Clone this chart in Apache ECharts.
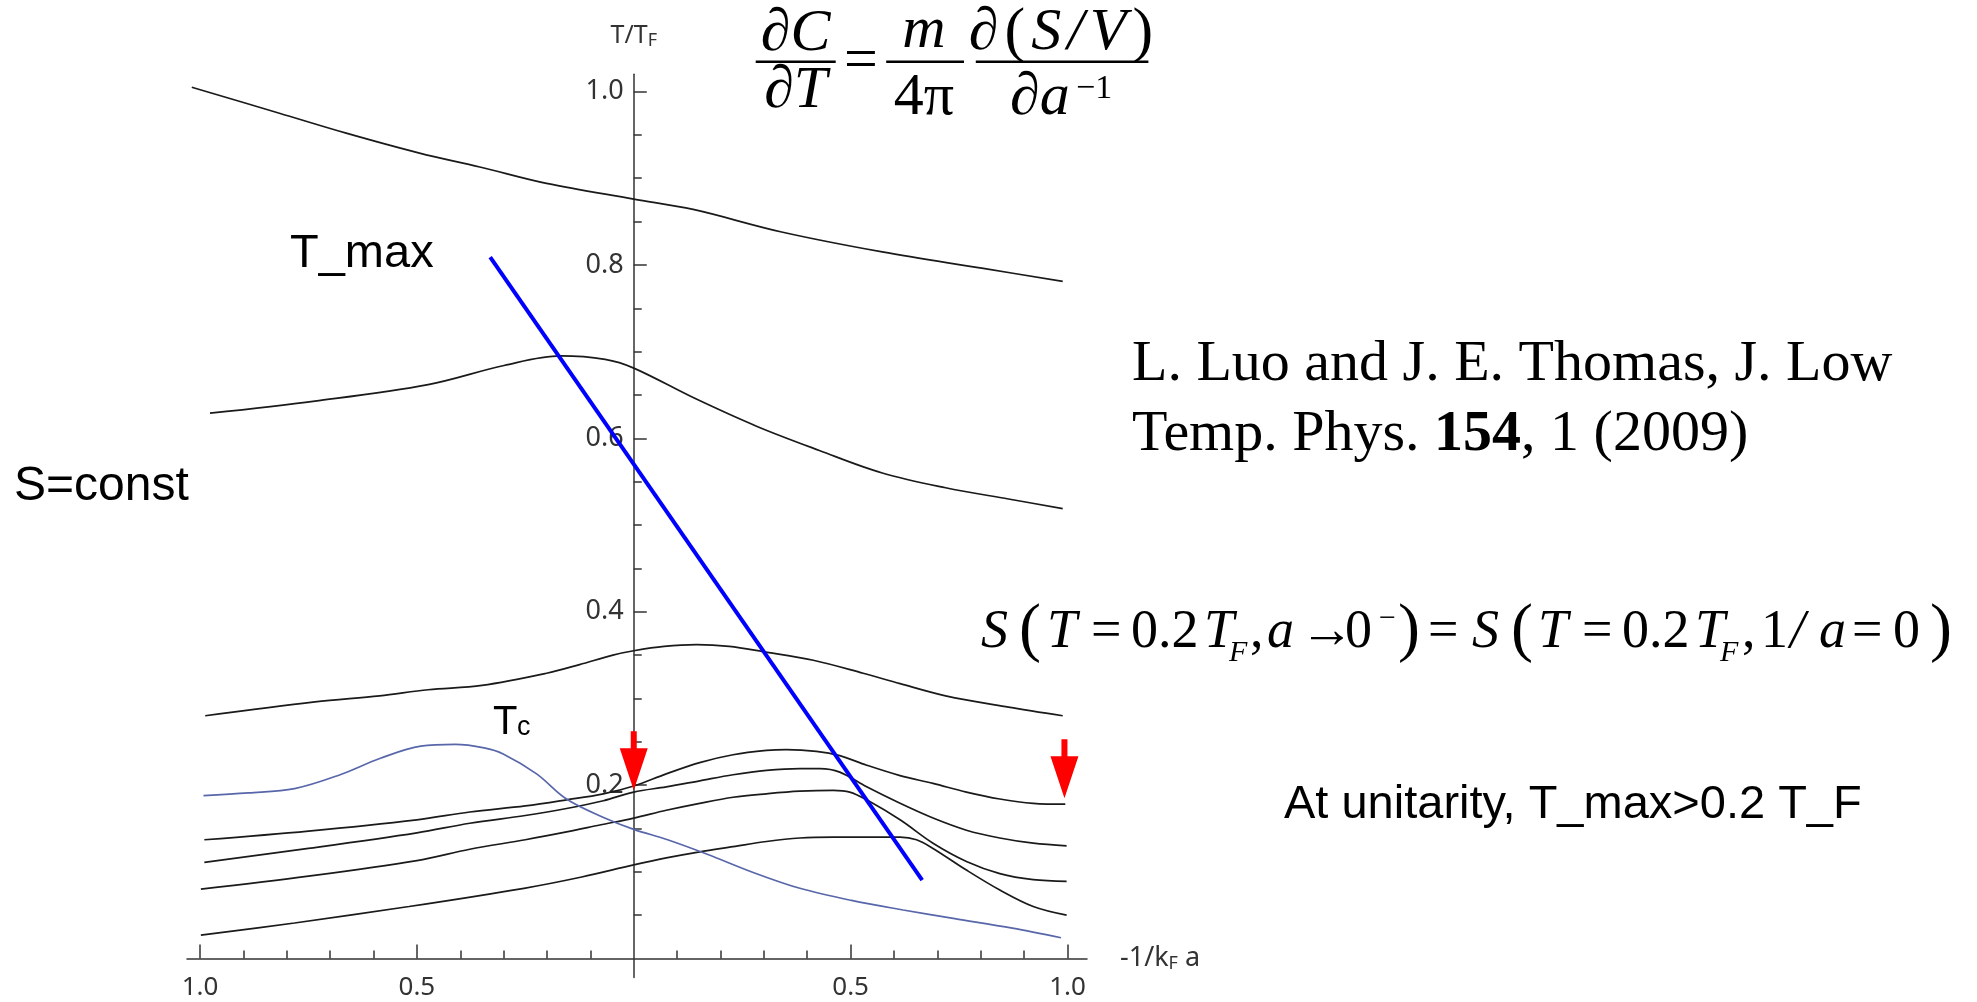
<!DOCTYPE html>
<html><head><meta charset="utf-8">
<script src="https://cdn.jsdelivr.net/npm/echarts@6/dist/echarts.min.js"></script>
<style>html,body{margin:0;padding:0;background:#fff}#c{width:1977px;height:1002px}</style>
</head><body><div id="c"></div>
<script>
// ---- data (x = -1/kFa signed, y = T/TF) ----
const xTicksMajor = [-1, -0.5, 0.5, 1];
const xTicksMinor = [-0.9,-0.8,-0.7,-0.6,-0.4,-0.3,-0.2,-0.1,0.1,0.2,0.3,0.4,0.6,0.7,0.8,0.9];
const yTicksMajor = [0.2, 0.4, 0.6, 0.8, 1.0];
const yTicksMinor = [0.05,0.1,0.15,0.25,0.3,0.35,0.45,0.5,0.55,0.65,0.7,0.75,0.85,0.9,0.95];

const isentrope1 = [[-1.019,1.005],[-0.817,0.975],[-0.663,0.952],[-0.494,0.929],[-0.355,0.913],[-0.201,0.894],[0,0.876],[0.137,0.864],[0.341,0.838],[0.573,0.815],[0.806,0.796],[0.989,0.781]];
const isentrope2 = [[-0.977,0.629],[-0.735,0.643],[-0.474,0.662],[-0.299,0.684],[-0.168,0.695],[-0.066,0.691],[0,0.681],[0.137,0.647],[0.283,0.614],[0.428,0.586],[0.573,0.560],[0.719,0.543],[0.864,0.530],[0.989,0.519]];
const isentrope3 = [[-0.988,0.280],[-0.735,0.296],[-0.586,0.303],[-0.474,0.310],[-0.35,0.315],[-0.201,0.329],[-0.125,0.339],[-0.048,0.350],[0,0.355],[0.07,0.360],[0.145,0.362],[0.22,0.360],[0.298,0.354],[0.414,0.344],[0.529,0.329],[0.614,0.317],[0.719,0.303],[0.864,0.290],[0.989,0.280]];
const isentrope4 = [[-0.99,0.137],[-0.75,0.147],[-0.5,0.160],[-0.378,0.169],[-0.25,0.176],[-0.155,0.183],[-0.07,0.190],[0,0.199],[0.075,0.213],[0.152,0.226],[0.229,0.235],[0.306,0.240],[0.352,0.241],[0.421,0.239],[0.475,0.234],[0.537,0.223],[0.614,0.211],[0.690,0.202],[0.767,0.192],[0.844,0.184],[0.921,0.179],[0.995,0.178]];
const isentrope5 = [[-0.99,0.111],[-0.75,0.127],[-0.5,0.145],[-0.378,0.156],[-0.25,0.165],[-0.155,0.173],[-0.07,0.182],[0,0.192],[0.075,0.198],[0.152,0.205],[0.229,0.212],[0.306,0.217],[0.383,0.219],[0.429,0.219],[0.475,0.215],[0.537,0.198],[0.614,0.179],[0.690,0.162],[0.767,0.148],[0.844,0.139],[0.921,0.133],[0.998,0.130]];
const isentrope6 = [[-0.998,0.080],[-0.75,0.095],[-0.5,0.113],[-0.378,0.126],[-0.25,0.137],[-0.155,0.146],[-0.078,0.154],[0,0.162],[0.075,0.171],[0.152,0.179],[0.229,0.186],[0.306,0.190],[0.383,0.193],[0.46,0.194],[0.498,0.192],[0.537,0.183],[0.614,0.160],[0.69,0.133],[0.767,0.112],[0.844,0.098],[0.921,0.091],[0.998,0.089]];
const isentrope7 = [[-0.998,0.027],[-0.782,0.041],[-0.518,0.060],[-0.253,0.081],[-0.12,0.094],[0,0.108],[0.075,0.116],[0.152,0.123],[0.229,0.129],[0.306,0.135],[0.383,0.139],[0.46,0.140],[0.537,0.140],[0.614,0.140],[0.652,0.137],[0.69,0.127],[0.767,0.102],[0.844,0.079],[0.921,0.060],[0.998,0.050]];
const tcCurve = [[-0.992,0.188],[-0.888,0.191],[-0.782,0.196],[-0.677,0.212],[-0.584,0.231],[-0.491,0.245],[-0.412,0.247],[-0.345,0.243],[-0.301,0.236],[-0.224,0.213],[-0.155,0.184],[-0.071,0.163],[0,0.149],[0.078,0.137],[0.171,0.120],[0.277,0.099],[0.383,0.081],[0.502,0.067],[0.621,0.056],[0.740,0.046],[0.873,0.035],[0.985,0.024]];
const tmaxLine = [[-0.331,0.809],[0.665,0.0905]];
const arrowPoints = [[0,0.194],[0.993,0.185]];

const isentropes = [isentrope1, isentrope2, isentrope3, isentrope4, isentrope5, isentrope6, isentrope7];

// ---- chart ----
const chart = echarts.init(document.getElementById('c'), null, {renderer:'canvas'});
const axisColor = '#333';
const labelColor = '#333333';
const tickFont = '"Noto Sans", "Open Sans", sans-serif';
const serif = '"Liberation Serif", "Times New Roman", serif';
const sans = '"Liberation Sans", Arial, sans-serif';

const X_MIN = -1.03, X_MAX = 1.045, Y_MIN = -0.022, Y_MAX = 1.02;
const GRID = {left:187, top:74.2, width:900, height:903.4};
const yAxisShift = -GRID.width * (0 - X_MIN) / (X_MAX - X_MIN);    // move y axis to x = 0
const xAxisShift = -GRID.height * (0 - Y_MIN) / (Y_MAX - Y_MIN);   // move x axis to y = 0

const series = isentropes.map(d => ({
  type:'line', data:d, showSymbol:false, smooth:0.35,
  lineStyle:{color:'#1a1a1a', width:1.7}, silent:true, z:2
}));
series.push({type:'line', data:tcCurve, showSymbol:false, smooth:0.35, lineStyle:{color:'#5866aa', width:1.7}, z:3});
series.push({type:'line', data:tmaxLine, showSymbol:false, lineStyle:{color:'#0000ff', width:4}, z:4});
series.push({type:'scatter', data:arrowPoints,
  symbol:'path://M11,0L17,0L17,17L28,17L14,59L0,17L11,17Z',
  symbolSize:[28,59], symbolOffset:[0,'-50%'], itemStyle:{color:'#ff0000', opacity:1}, z:5});

// entropy-condition tokens: [text, left x, style key]
const eqTokens = [
  ['S',981,'i'],['(',1019,'p'],['T',1047,'i'],['=',1091,'n'],['0.2',1131,'n'],['T',1204,'i'],['F',1229,'sub'],[',',1250,'n'],
  ['a',1267,'i'],['→',1300,'n'],['0',1345,'n'],['−',1379,'sup'],[')',1398,'p'],['=',1428,'n'],
  ['S',1472,'i'],['(',1511,'p'],['T',1538,'i'],['=',1582,'n'],['0.2',1622,'n'],['T',1695,'i'],['F',1720,'sub'],[',',1742,'n'],
  ['1',1761,'n'],['/',1790,'i'],['a',1819,'i'],['=',1852,'n'],['0',1893,'n'],[')',1930,'p']
];
const eqStyles = {
  i:{font:'italic 54px '+serif, y:633},
  n:{font:'54px '+serif, y:633},
  p:{font:'66px '+serif, y:631.5},
  sub:{font:'italic 30px '+serif, y:653.5},
  sup:{font:'30px '+serif, y:619}
};
const eqGraphics = eqTokens.map(t => ({type:'text', x:t[1], y:eqStyles[t[2]].y,
  style:{text:t[0], font:eqStyles[t[2]].font, fill:'#000', textAlign:'left', textVerticalAlign:'middle'}}));

const option = {
  animation:false,
  backgroundColor:'#ffffff',
  grid:Object.assign({outerBoundsMode:'none', containLabel:false}, GRID),
  xAxis:[{
    type:'value', min:X_MIN, max:X_MAX, position:'bottom', offset:xAxisShift,
    axisLine:{show:true, onZero:false, lineStyle:{color:axisColor, width:1.5}},
    axisTick:{show:true, inside:true, length:14, customValues:xTicksMajor, lineStyle:{color:axisColor, width:1.5}},
    axisLabel:{show:true, customValues:xTicksMajor, margin:16, color:labelColor, fontFamily:tickFont, fontSize:26,
      formatter:v => Math.abs(v).toFixed(1)},
    splitLine:{show:false},
    name:'{a|-1/k}{s|F}{a| a}', nameLocation:'end', nameGap:33,
    nameTextStyle:{rich:{a:{fontFamily:tickFont, fontSize:27, color:labelColor}, s:{fontFamily:tickFont, fontSize:18, color:labelColor, padding:[10,0,0,0]}}}
  },{
    type:'value', min:X_MIN, max:X_MAX, position:'bottom', offset:xAxisShift,
    axisLine:{show:false, onZero:false},
    axisTick:{show:true, inside:true, length:8, customValues:xTicksMinor, lineStyle:{color:axisColor, width:1.5}},
    axisLabel:{show:false}, splitLine:{show:false}
  }],
  yAxis:[{
    type:'value', min:Y_MIN, max:Y_MAX, position:'left', offset:yAxisShift,
    axisLine:{show:true, onZero:false, lineStyle:{color:axisColor, width:1.5}},
    axisTick:{show:true, inside:true, length:13, customValues:yTicksMajor, lineStyle:{color:axisColor, width:1.5}},
    axisLabel:{show:true, customValues:yTicksMajor, margin:10, color:labelColor, fontFamily:tickFont, fontSize:27,
      formatter:v => v.toFixed(1)},
    splitLine:{show:false},
    name:'{a|T/T}{s|F}', nameLocation:'end', nameGap:24,
    nameTextStyle:{rich:{a:{fontFamily:tickFont, fontSize:25, color:labelColor}, s:{fontFamily:tickFont, fontSize:18, color:labelColor, padding:[10,0,0,0]}}}
  },{
    type:'value', min:Y_MIN, max:Y_MAX, position:'left', offset:yAxisShift,
    axisLine:{show:false, onZero:false},
    axisTick:{show:true, inside:true, length:8, customValues:yTicksMinor, lineStyle:{color:axisColor, width:1.5}},
    axisLabel:{show:false}, splitLine:{show:false}
  }],
  series: series,
  graphic:[
    // formula dC/dT = m/(4pi) d(S/V)/d a^-1
    {type:'text', x:795.7, y:34, style:{text:'∂C', font:'italic 60px '+serif, fill:'#000', textAlign:'center', textVerticalAlign:'middle'}},
    {type:'rect', shape:{x:755.7, y:60.4, width:80, height:2.6}, style:{fill:'#000'}},
    {type:'text', x:795.7, y:91.3, style:{text:'∂T', font:'italic 60px '+serif, fill:'#000', textAlign:'center', textVerticalAlign:'middle'}},
    {type:'text', x:861, y:62, style:{text:'=', font:'60px '+serif, fill:'#000', textAlign:'center', textVerticalAlign:'middle'}},
    {type:'text', x:924, y:31.6, style:{text:'m', font:'italic 60px '+serif, fill:'#000', textAlign:'center', textVerticalAlign:'middle'}},
    {type:'rect', shape:{x:886.2, y:60.4, width:77.8, height:2.6}, style:{fill:'#000'}},
    {type:'text', x:924, y:98.6, style:{text:'4π', font:'60px '+serif, fill:'#000', textAlign:'center', textVerticalAlign:'middle'}},
    {type:'text', x:1061, y:33.5, style:{text:'{i|∂}{p|(}{i|S}{i|/}{i|V}{p|)}', textAlign:'center', textVerticalAlign:'middle',
      rich:{i:{font:'italic 60px '+serif, fill:'#000', padding:[0,3,0,3]}, p:{font:'62px '+serif, fill:'#000', padding:[0,3,0,3]}}}},
    {type:'rect', shape:{x:975.8, y:60.4, width:172.6, height:2.6}, style:{fill:'#000'}},
    {type:'text', x:1010, y:98, style:{text:'∂a', font:'italic 60px '+serif, fill:'#000', textAlign:'left', textVerticalAlign:'middle'}},
    {type:'text', x:1076, y:88.8, style:{text:'−1', font:'34px '+serif, fill:'#000', textAlign:'left', textVerticalAlign:'middle'}},
    // citation
    {type:'text', x:1132, y:365, style:{text:'L. Luo and J. E. Thomas, J. Low', font:'58px '+serif, fill:'#000', textAlign:'left', textVerticalAlign:'middle'}},
    {type:'text', x:1132, y:434.6, style:{text:'{n|Temp. Phys. }{b|154}{n|, 1 (2009)}', textAlign:'left', textVerticalAlign:'middle',
      rich:{n:{font:'58px '+serif, fill:'#000'}, b:{font:'bold 58px '+serif, fill:'#000'}}}},
    // labels
    {type:'text', x:1284, y:805, style:{text:'At unitarity, T_max>0.2 T_F', font:'47px '+sans, fill:'#000', textAlign:'left', textVerticalAlign:'middle'}},
    {type:'text', x:290, y:254, style:{text:'T_max', font:'47px '+sans, fill:'#000', textAlign:'left', textVerticalAlign:'middle'}},
    {type:'text', x:14, y:487, style:{text:'S=const', font:'48px '+sans, fill:'#000', textAlign:'left', textVerticalAlign:'middle'}},
    {type:'text', x:493, y:723, style:{text:'T', font:'40px '+sans, fill:'#000', textAlign:'left', textVerticalAlign:'middle'}},
    {type:'text', x:517, y:727.6, style:{text:'c', font:'27px '+sans, fill:'#000', textAlign:'left', textVerticalAlign:'middle'}}
  ].concat(eqGraphics)
};
chart.setOption(option);
</script></body></html>
